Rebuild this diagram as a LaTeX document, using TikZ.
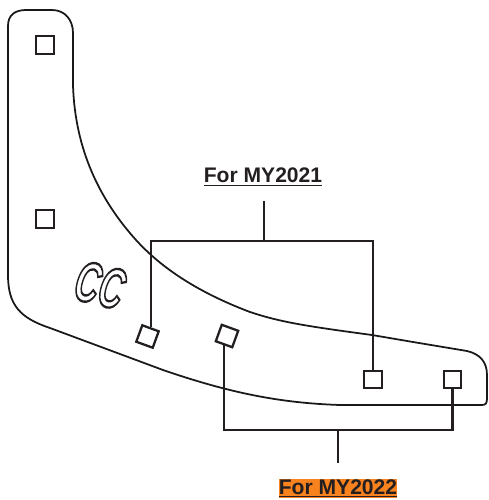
\documentclass[tikz,border=0pt]{standalone}
\usepackage{fontspec}
\setmainfont{Liberation Sans}
\definecolor{inkdark}{HTML}{231F20}
\definecolor{noteorange}{HTML}{F7821E}
\newcommand{\outlinetext}[1]{\special{pdf:code q 1 Tr 1 w 0.14 0.12 0.13 RG}#1\special{pdf:code 0 Tr Q}}
\tikzset{
  hole/.style={draw=inkdark,line width=1.3pt,fill=white,minimum size=0.35cm,inner sep=0pt},
  lead/.style={draw=inkdark,line width=1.2pt},
  edgeline/.style={draw=black!90!white,line width=1pt},
  yearlabel/.style={font=\bfseries\fontsize{12}{14}\selectfont,text=inkdark,inner sep=0pt}
}

\begin{document}
\begin{tikzpicture}[x=0.02cm,y=-0.02cm]

\useasboundingbox (0,0) rectangle (488,500);

\draw[edgeline] (8,26) .. controls (8,15) and (15,10) .. (26,10) -- (52,10)
  .. controls (65,10) and (73,20) .. (73,33) -- (73,85)
  .. controls (75,150) and (100,200) .. (136,240)
  .. controls (165,272) and (205,295) .. (250,312)
  .. controls (280,322) and (305,326) .. (372,335)
  -- (413,342) -- (467,351)
  .. controls (480,354) and (487,362) .. (487,375) -- (487,398)
  .. controls (487,403) and (486,405) .. (482,405) -- (340,405)
  .. controls (280,403) and (230,393) .. (163,370) -- (50,328)
  .. controls (20,318) and (8,305) .. (8,275) -- cycle;

\node[rotate=-14,xscale=0.8,yscale=1.35,inner sep=0pt] (logo) at (100,285)
  {\fontsize{24}{24}\selectfont\bfseries\itshape\outlinetext{CC}};

\node[hole] (holeA) at (45,45) {};
\node[hole] (holeB) at (45,219) {};
\node[hole,rotate=-20] (holeC) at (147.5,336.5) {};
\node[hole,rotate=-20] (holeD) at (227,336) {};
\node[hole] (holeE) at (373,379.5) {};
\node[hole] (holeF) at (452.5,379.5) {};

\node[yearlabel] (label2021) at (263,177) {\underline{For MY2021}};
\node[yearlabel,fill=noteorange] (label2022) at (338,488.5) {\underline{For MY2022}};

\coordinate (stemtop) at (264,201);
\coordinate (joint2021) at (264,241);
\coordinate (stembot) at (338,463);
\coordinate (joint2022) at (338,430);

\draw[lead] (holeC.north) |- (joint2021) -| (holeE.north);
\draw[lead] (stemtop) -- (joint2021);
\draw[lead] (holeD.south) |- (joint2022) -| (holeF.south);
\draw[lead] (stembot) -- (joint2022);

\end{tikzpicture}
\end{document}
